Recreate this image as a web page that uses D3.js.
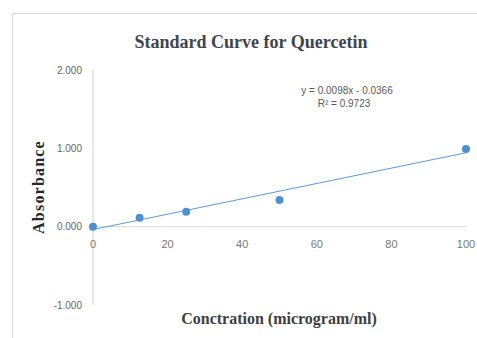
<!DOCTYPE html>
<html>
<head>
<meta charset="utf-8">
<script src="https://cdn.jsdelivr.net/npm/d3@7"></script>
<style>
  body { margin: 0; background: #fff; }
  svg text { font-family: "Liberation Sans", Arial, sans-serif; }
</style>
</head>
<body>
<div id="chart"></div>
<script>
// data
var concentration = [0, 12.5, 25, 50, 100];
var absorbance = [0.0, 0.115, 0.19, 0.34, 0.99];
var xTicks = [0, 20, 40, 60, 80, 100];
var yTicks = [-1, 0, 1, 2];
// trendline shown on the chart
var slope = 0.0098;
var intercept = -0.0366;
var trendRange = [0, 100];

var w = 477, h = 338;

var svg = d3.select("#chart")
  .append("svg")
  .attr("width", w)
  .attr("height", h);

// chart frame
svg.append("rect")
  .attr("x", 12.5)
  .attr("y", 13.5)
  .attr("width", w)
  .attr("height", h)
  .attr("fill", "#fff")
  .attr("stroke", "#d9d9d9");

var xScale = d3.scaleLinear().domain([0, 100]).range([93, 466]);
var yScale = d3.scaleLinear().domain([-1, 2]).range([305, 70]);

// y axis line
svg.append("line")
  .attr("x1", xScale(0)).attr("x2", xScale(0))
  .attr("y1", yScale(2)).attr("y2", yScale(-1))
  .attr("stroke", "#d0d0d0");

// horizontal axis at zero
svg.append("line")
  .attr("x1", xScale(0)).attr("x2", xScale(100))
  .attr("y1", yScale(0)).attr("y2", yScale(0))
  .attr("stroke", "#d9d9d9");

// y tick labels
svg.selectAll("text.ytick")
  .data(yTicks)
  .enter()
  .append("text")
  .attr("class", "ytick")
  .attr("x", 82)
  .attr("y", d => yScale(d))
  .attr("dy", "0.35em")
  .attr("text-anchor", "end")
  .attr("font-size", 10)
  .attr("fill", "#666")
  .text(d => d3.format(".3f")(d).replace("−", "-"));

// x tick labels
svg.selectAll("text.xtick")
  .data(xTicks)
  .enter()
  .append("text")
  .attr("class", "xtick")
  .attr("x", d => xScale(d))
  .attr("y", yScale(0) + 21)
  .attr("text-anchor", "middle")
  .attr("font-size", 11)
  .attr("fill", "#777")
  .text(d => d);

// trendline
svg.append("line")
  .attr("x1", xScale(trendRange[0]))
  .attr("y1", yScale(slope * trendRange[0] + intercept))
  .attr("x2", xScale(trendRange[1]))
  .attr("y2", yScale(slope * trendRange[1] + intercept))
  .attr("stroke", "#5b9bd5")
  .attr("stroke-width", 1);

// points
svg.selectAll("circle")
  .data(concentration)
  .enter()
  .append("circle")
  .attr("cx", (d, i) => xScale(d))
  .attr("cy", (d, i) => yScale(absorbance[i]))
  .attr("r", 4)
  .attr("fill", "#4f8fd0");

// equation label
svg.append("text")
  .attr("x", 347)
  .attr("y", 94)
  .attr("text-anchor", "middle")
  .attr("font-size", 10)
  .attr("fill", "#595959")
  .text("y = 0.0098x - 0.0366");

svg.append("text")
  .attr("x", 344)
  .attr("y", 107)
  .attr("text-anchor", "middle")
  .attr("font-size", 10)
  .attr("fill", "#595959")
  .text("R² = 0.9723");

// title
svg.append("text")
  .attr("x", 251)
  .attr("y", 48)
  .attr("text-anchor", "middle")
  .attr("font-size", 18)
  .attr("font-weight", "bold")
  .attr("fill", "#3f4450")
  .style("font-family", "'Liberation Serif', 'Times New Roman', serif")
  .text("Standard Curve for Quercetin");

// axis titles
svg.append("text")
  .attr("transform", "translate(44,187) rotate(-90)")
  .attr("text-anchor", "middle")
  .attr("font-size", 16)
  .attr("letter-spacing", 1.2)
  .attr("font-weight", "bold")
  .attr("fill", "#262626")
  .style("font-family", "'Liberation Serif', 'Times New Roman', serif")
  .text("Absorbance");

svg.append("text")
  .attr("x", 279)
  .attr("y", 324)
  .attr("text-anchor", "middle")
  .attr("font-size", 16)
  .attr("font-weight", "bold")
  .attr("fill", "#404040")
  .style("font-family", "'Liberation Serif', 'Times New Roman', serif")
  .text("Conctration (microgram/ml)");
</script>
</body>
</html>
